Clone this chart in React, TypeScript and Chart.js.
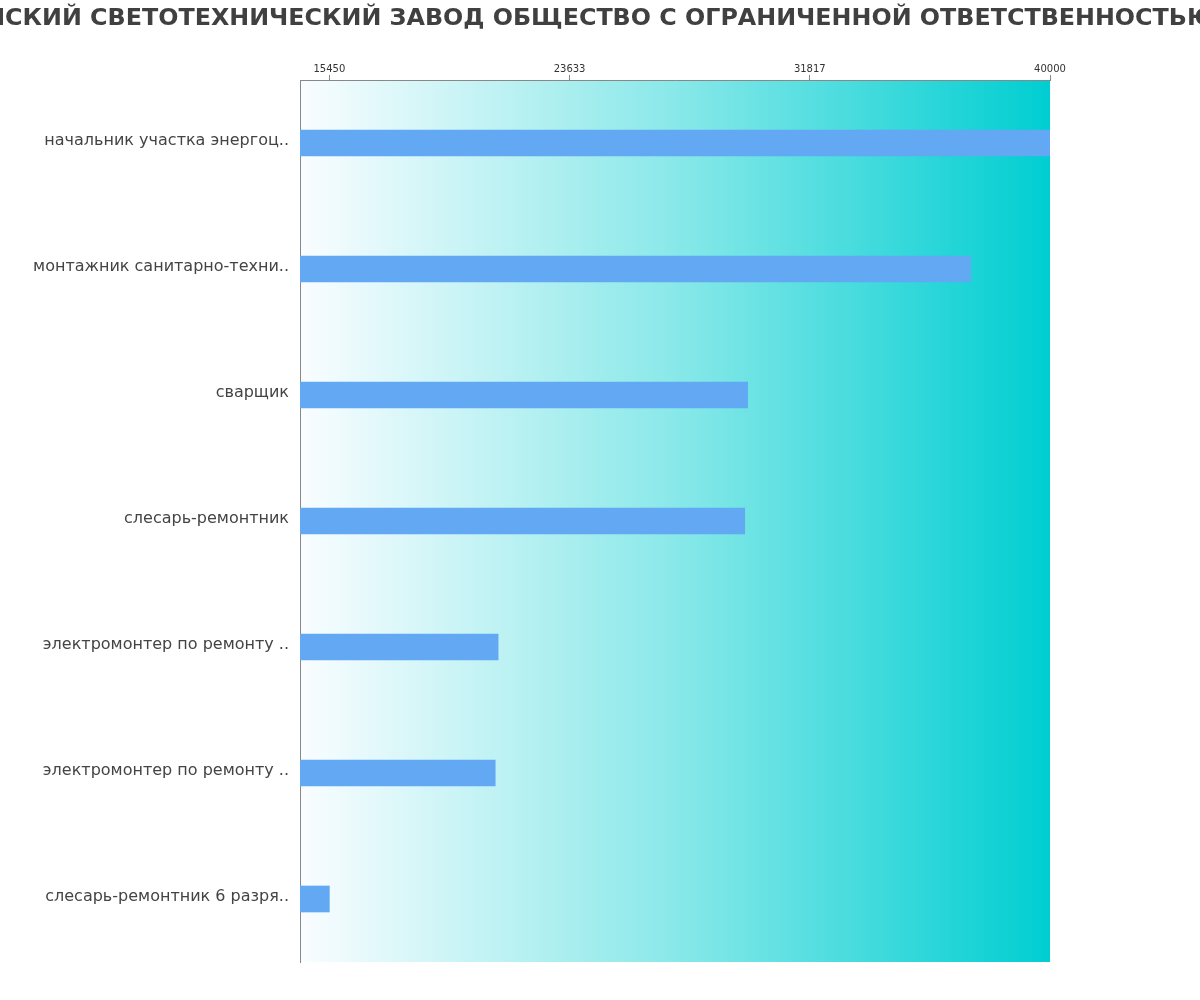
import React, { useEffect, useRef } from 'react';
import { Chart, registerables } from 'chart.js';

Chart.register(...registerables);

const titleText = 'ИСКИЙ СВЕТОТЕХНИЧЕСКИЙ ЗАВОД ОБЩЕСТВО С ОГРАНИЧЕННОЙ ОТВЕТСТВЕННОСТЬЮ';

const categories = [
    'начальник участка энергоц..',
    'монтажник санитарно-техни..',
    'сварщик',
    'слесарь-ремонтник',
    'электромонтер по ремонту ..',
    'электромонтер по ремонту ..',
    'слесарь-ремонтник 6 разря..',
];

const salaries = [40000, 37300, 29700, 29600, 21200, 21100, 15450];

const tickValues = [15450, 23633, 31817, 40000];
const axisMin = 14450;
const axisMax = 40000;

// заливка области графика градиентом
const gradientBackground = {
    id: 'gradientBackground',
    beforeDraw(chart: any) {
        const { ctx, chartArea } = chart;
        if (!chartArea) return;
        const g = ctx.createLinearGradient(chartArea.left, 0, chartArea.right, 0);
        g.addColorStop(0, '#FAFDFF');
        g.addColorStop(0.5, '#89E8E9');
        g.addColorStop(1, '#00CED1');
        ctx.save();
        ctx.fillStyle = g;
        ctx.fillRect(chartArea.left, chartArea.top, chartArea.right - chartArea.left, chartArea.bottom - chartArea.top);
        ctx.restore();
    },
};

// заголовок без сжатия по ширине (встроенный title сжимает текст)
const wideTitle = {
    id: 'wideTitle',
    afterDraw(chart: any) {
        const { ctx, width } = chart;
        ctx.save();
        ctx.font = 'bold 23.8px "DejaVu Sans"';
        ctx.fillStyle = '#404040';
        ctx.textAlign = 'center';
        ctx.textBaseline = 'middle';
        ctx.fillText(titleText, width / 2, 19);
        ctx.restore();
    },
};

const SalaryChart: React.FC = () => {
    const chartRef = useRef<HTMLCanvasElement>(null);
    const chartInstanceRef = useRef<Chart | null>(null);

    useEffect(() => {
        document.body.style.margin = '0';
        const ctx = chartRef.current?.getContext('2d');
        if (!ctx) return;

        if (chartInstanceRef.current) {
            chartInstanceRef.current.destroy();
        }

        chartInstanceRef.current = new Chart(ctx, {
            type: 'bar',
            data: {
                labels: categories,
                datasets: [
                    {
                        data: salaries,
                        backgroundColor: '#62A8F3',
                        barThickness: 26,
                        base: axisMin,
                    } as any,
                ],
            },
            options: {
                indexAxis: 'y',
                animation: false,
                responsive: false,
                maintainAspectRatio: false,
                layout: { padding: { left: 0, right: 150, top: 0, bottom: 38 } },
                plugins: {
                    legend: { display: false },
                    tooltip: { enabled: false },
                    title: { display: false },
                },
                scales: {
                    x: {
                        position: 'top',
                        min: axisMin,
                        max: axisMax,
                        afterBuildTicks: (scale: any) => {
                            scale.ticks = tickValues.map((v) => ({ value: v }));
                        },
                        afterFit: (scale: any) => {
                            scale.height = 80;
                        },
                        ticks: {
                            color: '#333333',
                            font: { family: '"DejaVu Sans"', size: 10 },
                            padding: 0,
                            maxRotation: 0,
                            autoSkip: false,
                            callback: (v: any) => String(Math.round(Number(v))),
                        },
                        grid: {
                            drawOnChartArea: false,
                            tickLength: 5,
                            color: '#888888',
                        },
                        border: { color: '#888888' },
                    },
                    y: {
                        afterFit: (scale: any) => {
                            scale.width = 300;
                        },
                        ticks: {
                            color: '#444444',
                            font: { family: '"DejaVu Sans"', size: 16 },
                            padding: 11,
                            labelOffset: -2,
                        },
                        grid: { display: false, drawTicks: false },
                        border: { color: '#888888' },
                    },
                },
            },
            plugins: [gradientBackground, wideTitle],
        });

        return () => {
            if (chartInstanceRef.current) {
                chartInstanceRef.current.destroy();
                chartInstanceRef.current = null;
            }
        };
    }, []);

    return <canvas ref={chartRef} width={1200} height={1000} style={{ width: '1200px', height: '1000px', display: 'block' }} />;
};

export default function App() {
    return <SalaryChart />;
}
